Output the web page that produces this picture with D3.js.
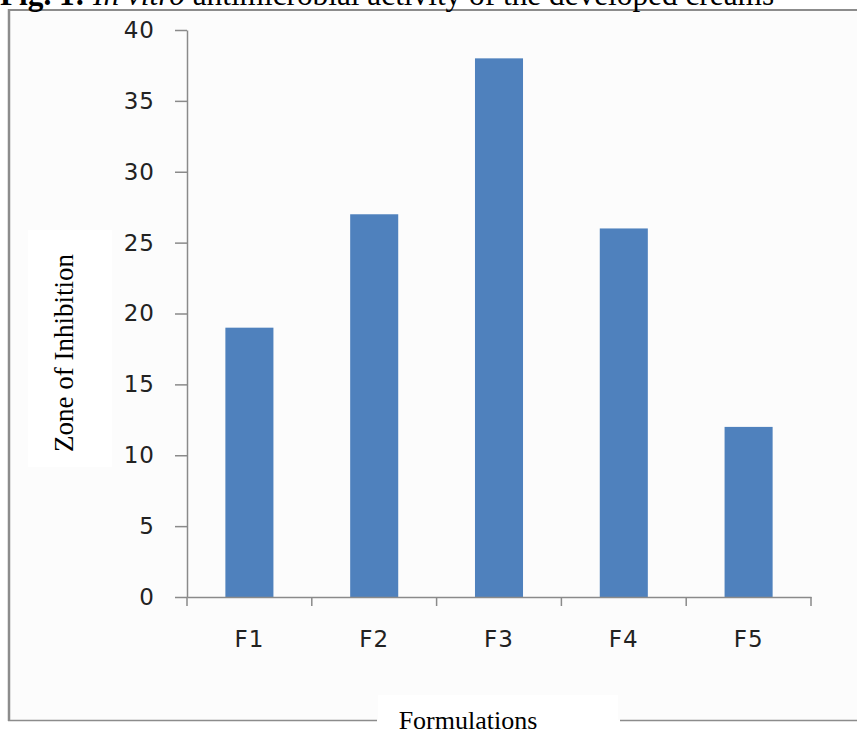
<!DOCTYPE html>
<html>
<head>
<meta charset="utf-8">
<script src="https://cdn.jsdelivr.net/npm/d3@7"></script>
<style>
  html, body { margin: 0; padding: 0; background: #ffffff; }
  svg { display: block; }
</style>
</head>
<body>
<svg id="chart" width="857" height="731"></svg>
<script>
// Zone of inhibition for each cream formulation
const formulations = ["F1", "F2", "F3", "F4", "F5"];
const inhibition = [19, 27, 38, 26, 12];
const yTickValues = [0, 5, 10, 15, 20, 25, 30, 35, 40];

const svg = d3.select("#chart");
const W = 857, H = 731;

// Plot area
const plotLeft = 187, plotRight = 811, plotTop = 30, plotBottom = 597;

const x = d3.scaleBand().domain(formulations).range([plotLeft, plotRight]).padding(0);
const y = d3.scaleLinear().domain([0, 40]).range([plotBottom, plotTop]);

const axisGrey = "#8a8a8a";
const tickFont = "DejaVu Sans, Verdana, sans-serif";
const serif = "Liberation Serif, Times New Roman, serif";

// Figure frame (page background slightly off-white)
svg.append("rect").attr("x", 9).attr("y", 10).attr("width", W - 9).attr("height", 710)
  .attr("fill", "#fcfcfc");

// White boxes behind the axis titles
svg.append("rect").attr("x", 28).attr("y", 230).attr("width", 84).attr("height", 237).attr("fill", "#ffffff");
svg.append("rect").attr("x", 378).attr("y", 695).attr("width", 240).attr("height", 36).attr("fill", "#ffffff");

// Frame lines
svg.append("line").attr("x1", 8).attr("x2", W).attr("y1", 10).attr("y2", 10)
  .attr("stroke", "#8c8c8c").attr("stroke-width", 2);
svg.append("line").attr("x1", 9).attr("x2", 9).attr("y1", 9).attr("y2", 721)
  .attr("stroke", "#8c8c8c").attr("stroke-width", 2.5);
svg.append("line").attr("x1", 8).attr("x2", 377).attr("y1", 720.5).attr("y2", 720.5)
  .attr("stroke", "#8c8c8c").attr("stroke-width", 1.5);
svg.append("line").attr("x1", 620).attr("x2", W).attr("y1", 720.5).attr("y2", 720.5)
  .attr("stroke", "#8c8c8c").attr("stroke-width", 1.5);

// Title (runs off the top of the figure)
const title = svg.append("text").attr("x", 0).attr("y", 4.5)
  .attr("font-family", serif).attr("font-size", 31.3).attr("fill", "#000");
title.append("tspan").attr("font-weight", "bold").text("Fig. 1: ");
title.append("tspan").attr("font-style", "italic").text("In vitro");
title.append("tspan").text(" antimicrobial activity of the developed creams");

// Bars
const barW = x.bandwidth() * 0.385;
svg.append("g").selectAll("rect")
  .data(formulations.map((f, i) => ({ f, v: inhibition[i] })))
  .join("rect")
  .attr("x", d => x(d.f) + (x.bandwidth() - barW) / 2)
  .attr("y", d => y(d.v))
  .attr("width", barW)
  .attr("height", d => y(0) - y(d.v))
  .attr("fill", "#4f81bd");

// Y axis
const yAxis = svg.append("g").attr("transform", `translate(${plotLeft},0)`)
  .call(d3.axisLeft(y).tickValues(yTickValues).tickSize(12).tickSizeOuter(0).tickPadding(20));
yAxis.select(".domain").attr("stroke", axisGrey).attr("stroke-width", 1.5);
yAxis.selectAll(".tick line").attr("stroke", axisGrey).attr("stroke-width", 1.5);
yAxis.selectAll(".tick text").attr("font-family", tickFont).attr("font-size", 23)
  .attr("fill", "#222").attr("letter-spacing", "1px");

// X axis: line plus ticks on category boundaries, labels centred under bars
const xAxis = svg.append("g").attr("transform", `translate(0,${plotBottom})`)
  .call(d3.axisBottom(x).tickSize(0).tickSizeOuter(0).tickPadding(34));
xAxis.select(".domain").attr("stroke", axisGrey).attr("stroke-width", 1.5);
xAxis.selectAll(".tick text").attr("font-family", tickFont).attr("font-size", 23)
  .attr("fill", "#222").attr("letter-spacing", "1px");
const boundaries = formulations.map(f => x(f)).concat([x(formulations[formulations.length - 1]) + x.bandwidth()]);
xAxis.append("g").selectAll("line").data(boundaries).join("line")
  .attr("x1", d => d).attr("x2", d => d).attr("y1", 0).attr("y2", 9)
  .attr("stroke", axisGrey).attr("stroke-width", 1.5);

// Axis titles
svg.append("text").attr("transform", "translate(73,353) rotate(-90)")
  .attr("text-anchor", "middle").attr("font-family", serif).attr("font-size", 27)
  .attr("fill", "#000").text("Zone of Inhibition");
svg.append("text").attr("x", 468).attr("y", 729)
  .attr("text-anchor", "middle").attr("font-family", serif).attr("font-size", 26)
  .attr("fill", "#000").text("Formulations");
</script>
</body>
</html>
